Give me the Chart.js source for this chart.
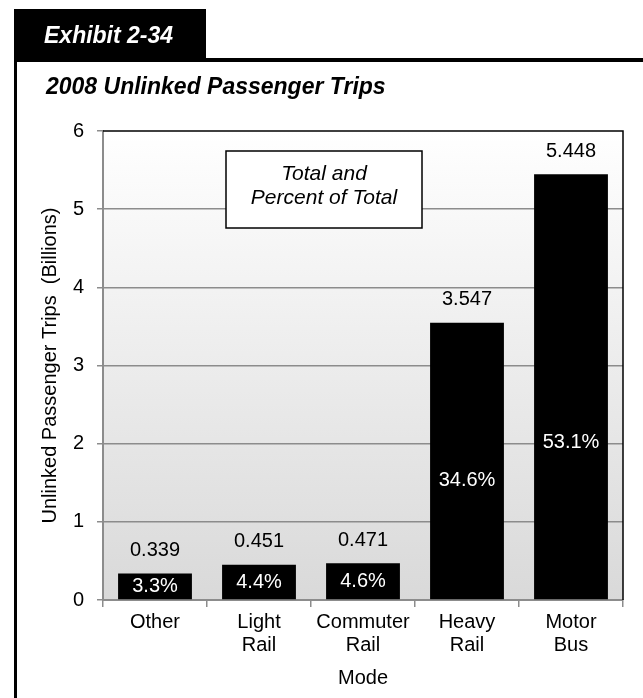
<!DOCTYPE html>
<html>
<head>
<meta charset="utf-8">
<script src="https://cdn.jsdelivr.net/npm/chart.js@4.4.1/dist/chart.umd.min.js"></script>
<style>
  html, body { margin: 0; padding: 0; background: #fff; }
  #wrap { position: relative; width: 643px; height: 698px; }
</style>
</head>
<body>
<div id="wrap"><canvas id="tripsChart" width="643" height="698"></canvas></div>
<script>
const modes = [['Other'], ['Light', 'Rail'], ['Commuter', 'Rail'], ['Heavy', 'Rail'], ['Motor', 'Bus']];
const trips = [0.339, 0.451, 0.471, 3.547, 5.448];
const shares = ['3.3%', '4.4%', '4.6%', '34.6%', '53.1%'];
const yTicks = [0, 1, 2, 3, 4, 5, 6];

const FONT = '"Liberation Sans", Arial, sans-serif';
const GRID = '#8c8c8c';

// frame, tab and heading around the chart
const framePlugin = {
  id: 'frame',
  beforeDraw(chart) {
    const c = chart.ctx;
    c.save();
    c.fillStyle = '#000';
    c.fillRect(14, 9, 192, 53);
    c.fillRect(14, 58, 629, 4);
    c.fillRect(14, 58, 3, 640);
    c.fillStyle = '#fff';
    c.font = 'italic bold 23px ' + FONT;
    c.textBaseline = 'alphabetic';
    c.fillText('Exhibit 2-34', 44, 43);
    c.fillStyle = '#000';
    c.fillText('2008 Unlinked Passenger Trips', 46, 94);

    // plot background gradient
    const a = chart.chartArea;
    const g = c.createLinearGradient(0, a.top, 0, a.bottom);
    g.addColorStop(0, '#ffffff');
    g.addColorStop(1, '#d9d9d9');
    c.fillStyle = g;
    c.fillRect(a.left, a.top, a.right - a.left, a.bottom - a.top);
    c.restore();
  },
  afterDraw(chart) {
    const c = chart.ctx;
    const a = chart.chartArea;
    c.save();
    c.strokeStyle = '#000';
    c.lineWidth = 1.5;
    c.beginPath();
    c.moveTo(a.left, a.top);
    c.lineTo(a.right, a.top);
    c.lineTo(a.right, a.bottom);
    c.stroke();
    c.restore();
  }
};

// value labels above, share labels inside, and the note box
const labelPlugin = {
  id: 'labels',
  afterDatasetsDraw(chart) {
    const c = chart.ctx;
    const a = chart.chartArea;
    const bars = chart.getDatasetMeta(0).data;
    c.save();
    c.font = '20px ' + FONT;
    c.textAlign = 'center';
    c.textBaseline = 'middle';
    bars.forEach((bar, i) => {
      c.fillStyle = '#000';
      c.fillText(trips[i].toFixed(3), bar.x, bar.y - 23);
      const h = bar.base - bar.y;
      const y = h > 100 ? bar.base - (h * 0.25 + 50) : bar.y + h / 2;
      c.fillStyle = '#fff';
      c.fillText(shares[i], bar.x, y);
    });

    // note box
    const bx = a.left + 123, by = a.top + 20, bw = 196, bh = 77;
    c.fillStyle = '#fff';
    c.fillRect(bx, by, bw, bh);
    c.strokeStyle = '#000';
    c.lineWidth = 1.5;
    c.strokeRect(bx, by, bw, bh);
    c.fillStyle = '#000';
    c.font = 'italic 21px ' + FONT;
    c.fillText('Total and', bx + bw / 2, by + 23);
    c.fillText('Percent of Total', bx + bw / 2, by + 47);
    c.restore();
  }
};

new Chart(document.getElementById('tripsChart'), {
  type: 'bar',
  data: {
    labels: modes,
    datasets: [{
      data: trips,
      backgroundColor: '#000',
      borderWidth: 0,
      categoryPercentage: 1,
      barPercentage: 0.71
    }]
  },
  options: {
    responsive: false,
    animation: false,
    layout: { padding: { top: 131, right: 20, left: 0, bottom: 0 } },
    plugins: { legend: { display: false }, tooltip: { enabled: false } },
    scales: {
      x: {
        afterFit: s => { s.height = 98; },
        grid: { drawOnChartArea: false, tickLength: 7, color: GRID, lineWidth: 1.5 },
        border: { color: GRID, width: 2 },
        ticks: { color: '#000', padding: 4, font: { family: FONT, size: 20, lineHeight: 1.15 }, maxRotation: 0 },
        title: { display: true, text: 'Mode', color: '#000', font: { family: FONT, size: 20 }, padding: { top: 0, bottom: 8 } }
      },
      y: {
        min: 0,
        max: 6,
        afterFit: s => { s.width = 103; },
        afterBuildTicks: s => { s.ticks = yTicks.map(v => ({ value: v })); },
        grid: {
          color: ctx => (ctx.tick && ctx.tick.value === 6 ? 'rgba(0,0,0,0)' : GRID),
          tickColor: GRID,
          lineWidth: 1.5,
          tickLength: 6
        },
        border: { color: GRID, width: 2 },
        ticks: { color: '#000', padding: 13, font: { family: FONT, size: 20 } },
        title: {
          display: true,
          text: 'Unlinked Passenger Trips  (Billions)',
          color: '#000',
          font: { family: FONT, size: 20 },
          padding: { top: 38, bottom: 0 }
        }
      }
    }
  },
  plugins: [framePlugin, labelPlugin]
});
</script>
</body>
</html>
